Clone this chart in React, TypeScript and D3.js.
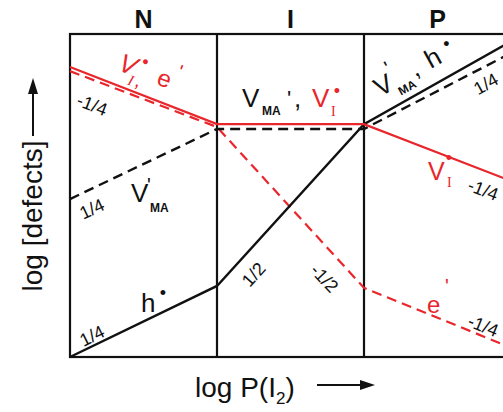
import React from "react";
import * as d3 from "d3";

const W = 503;
const H = 412;

// Brouwer diagram: defect regimes along log P(I2)
const regimes = ["N", "I", "P"];
const regimeEdges = [0, 1, 2, 3];

// break points of the piecewise-linear curves (log P(I2), arbitrary units)
const logP = [0, 1, 2, 3];

// log concentrations at each break point (arbitrary units)
const holes = [0, 2.2, 7.21, 9.77]; // h•
const vmaVacancies = [4.89, 7.06, 7.06, 9.41]; // V'MA
const iodideVacancies = [8.98, 7.21, 7.21, 5.45]; // V_I•
const electrons = [8.85, 7.12, 2.14, 0.29]; // e'

// slope annotations: text, anchor point (log P, log [defect]), rotation
const slopeLabels: [string, number, number, number][] = [
  ["-1/4", 0.15, 7.8, 21],
  ["1/4", 0.15, 4.58, -25],
  ["1/4", 0.15, 0.65, -26],
  ["1/2", 1.25, 2.55, -48],
  ["-1/2", 1.73, 2.43, 47],
  ["1/4", 2.83, 8.45, -29],
  ["-1/4", 2.81, 5.17, 21],
  ["-1/4", 2.81, 0.96, 22],
];

const RED = "#e8262b";
const INK = "#111";
const FONT = "'Liberation Sans', Arial, Helvetica, sans-serif";
const SERIF = "'Liberation Serif', 'Times New Roman', serif";

export default function App() {
  const x = d3.scaleLinear().domain([0, 3]).range([70, 511]);
  const y = d3.scaleLinear().domain([0, 10]).range([357, 34]);

  const line = d3
    .line<number>()
    .x((_, i) => x(logP[i]))
    .y((d) => y(d));

  const dash = "10,6";

  return (
    <svg
      width={W}
      height={H}
      viewBox={`0 0 ${W} ${H}`}
      style={{ position: "absolute", left: 0, top: 0, background: "#fff" }}
      fontFamily={FONT}
    >
      {/* regime headers */}
      {regimes.map((r, i) => (
        <text
          key={r}
          x={(x(regimeEdges[i]) + x(regimeEdges[i + 1])) / 2}
          y={28}
          textAnchor="middle"
          fontSize={25}
          fontWeight="bold"
          fill={INK}
        >
          {r}
        </text>
      ))}

      {/* frame and regime boundaries */}
      <rect
        x={x(0)}
        y={y(10)}
        width={x(3) - x(0)}
        height={y(0) - y(10)}
        fill="none"
        stroke={INK}
        strokeWidth={2.2}
      />
      {regimeEdges.slice(1, 3).map((e) => (
        <line key={e} x1={x(e)} x2={x(e)} y1={y(10)} y2={y(0)} stroke={INK} strokeWidth={2.2} />
      ))}

      {/* defect concentration curves */}
      <path d={line(electrons) ?? ""} fill="none" stroke={RED} strokeWidth={2.2} strokeDasharray={dash} />
      <path d={line(vmaVacancies) ?? ""} fill="none" stroke={INK} strokeWidth={2.4} strokeDasharray={dash} />
      <path d={line(holes) ?? ""} fill="none" stroke={INK} strokeWidth={2.4} />
      <path d={line(iodideVacancies) ?? ""} fill="none" stroke={RED} strokeWidth={2.2} />

      {/* slope annotations */}
      {slopeLabels.map(([t, lx, ly, a], i) => (
        <text
          key={i}
          transform={`translate(${x(lx)},${y(ly)}) rotate(${a})`}
          textAnchor="middle"
          dominantBaseline="central"
          fontSize={18}
          fill={INK}
        >
          {t}
        </text>
      ))}

      {/* N regime: V_I•, e' */}
      <g transform="translate(117,70) rotate(20)" fill={RED}>
        <text x={0} y={0} fontSize={26} fontStyle="italic">V</text>
        <text x={24} y={-11.5} fontSize={18} textAnchor="middle">•</text>
        <text x={14} y={10} fontSize={15} fontStyle="italic" fontFamily={SERIF}>I</text>
        <text x={21} y={9} fontSize={20}>,</text>
        <text x={41} y={0} fontSize={24}>e</text>
        <text x={58} y={-13} fontSize={20}>'</text>
      </g>

      {/* N regime: V'MA */}
      <g fill={INK}>
        <text x={131} y={202} fontSize={26}>V</text>
        <text x={147} y={192} fontSize={20}>'</text>
        <text x={150} y={212} fontSize={12} fontWeight="bold">MA</text>
      </g>

      {/* N regime: h• */}
      <g fill={INK}>
        <text x={141} y={312} fontSize={26}>h</text>
        <text x={163} y={298.5} fontSize={18} textAnchor="middle">•</text>
      </g>

      {/* I regime: V_MA', V_I• */}
      <g>
        <text x={242} y={107} fontSize={26} fill={INK}>V</text>
        <text x={262} y={115} fontSize={12} fontWeight="bold" fill={INK}>MA</text>
        <text x={287} y={106} fontSize={22} fill={INK}>'</text>
        <text x={294} y={107} fontSize={26} fill={INK}>,</text>
        <text x={312} y={107} fontSize={26} fill={RED}>V</text>
        <text x={331} y={116} fontSize={14} fontFamily={SERIF} fill={RED}>I</text>
        <text x={337} y={96.5} fontSize={18} textAnchor="middle" fill={RED}>•</text>
      </g>

      {/* P regime: V'MA, h• */}
      <g transform="translate(380,97) rotate(-29)" fill={INK}>
        <text x={0} y={0} fontSize={26}>V</text>
        <text x={19} y={-15} fontSize={20}>'</text>
        <text x={19} y={9} fontSize={12} fontWeight="bold">MA</text>
        <text x={40} y={0} fontSize={26}>,</text>
        <text x={58} y={0} fontSize={26}>h</text>
        <text x={84} y={-8.5} fontSize={18} textAnchor="middle">•</text>
      </g>

      {/* P regime: V_I• */}
      <g fill={RED}>
        <text x={428} y={180} fontSize={25}>V</text>
        <text x={447} y={187} fontSize={14} fontFamily={SERIF}>I</text>
        <text x={449} y={163.5} fontSize={18} textAnchor="middle">•</text>
      </g>

      {/* P regime: e' */}
      <g fill={RED}>
        <text x={427} y={313} fontSize={24}>e</text>
        <text x={445} y={293} fontSize={20}>'</text>
      </g>

      {/* x axis title */}
      <text x={195} y={397} fontSize={28} fill={INK}>
        log P(I
        <tspan fontSize={17} dy={7}>2</tspan>
        <tspan dy={-7}>)</tspan>
      </text>
      <line x1={317} x2={362} y1={385} y2={385} stroke={INK} strokeWidth={2} />
      <path d="M360,380 L375,385 L360,390 Z" fill={INK} />

      {/* y axis title */}
      <text
        transform="translate(42,216) rotate(-90)"
        textAnchor="middle"
        fontSize={28}
        fill={INK}
      >
        log [defects]
      </text>
      <line x1={33} x2={33} y1={136} y2={92} stroke={INK} strokeWidth={2} />
      <path d="M28,94 L33,78 L38,94 Z" fill={INK} />
    </svg>
  );
}
